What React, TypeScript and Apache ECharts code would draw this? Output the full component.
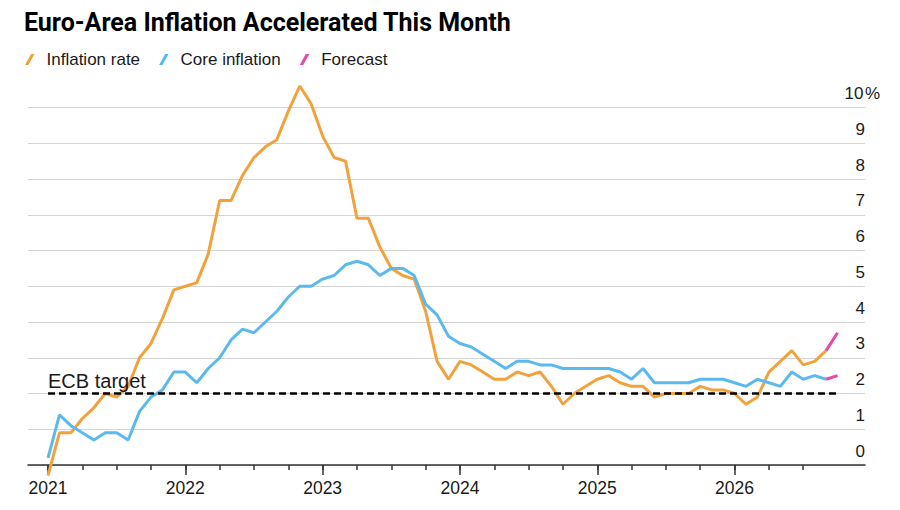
import React, { useEffect, useRef } from 'react';
import * as echarts from 'echarts';

// ---------- data ----------
const titleText = 'Euro-Area Inflation Accelerated This Month';
const seriesNames = ['Inflation rate', 'Core inflation', 'Forecast'];
const firstYear = 2021;
// monthly readings, first value sits on the 2021 tick
const inflationRate = [
  -0.3, 0.9, 0.9, 1.3, 1.6, 2.0, 1.9, 2.2, 3.0, 3.4, 4.1, 4.9,
  5.0, 5.1, 5.9, 7.4, 7.4, 8.1, 8.6, 8.9, 9.1, 9.9, 10.6, 10.1,
  9.2, 8.6, 8.5, 6.9, 6.9, 6.1, 5.5, 5.3, 5.2, 4.3, 2.9, 2.4,
  2.9, 2.8, 2.6, 2.4, 2.4, 2.6, 2.5, 2.6, 2.2, 1.7, 2.0, 2.2,
  2.4, 2.5, 2.3, 2.2, 2.2, 1.9, 2.0, 2.0, 2.0, 2.2, 2.1, 2.1,
  2.0, 1.7, 1.9, 2.6, 2.9, 3.2, 2.8, 2.9, 3.2,
];
const coreInflation = [
  0.2, 1.4, 1.1, 0.9, 0.7, 0.9, 0.9, 0.7, 1.5, 1.9, 2.1, 2.6,
  2.6, 2.3, 2.7, 3.0, 3.5, 3.8, 3.7, 4.0, 4.3, 4.7, 5.0, 5.0,
  5.2, 5.3, 5.6, 5.7, 5.6, 5.3, 5.5, 5.5, 5.3, 4.5, 4.2, 3.6,
  3.4, 3.3, 3.1, 2.9, 2.7, 2.9, 2.9, 2.8, 2.8, 2.7, 2.7, 2.7,
  2.7, 2.7, 2.6, 2.4, 2.7, 2.3, 2.3, 2.3, 2.3, 2.4, 2.4, 2.4,
  2.3, 2.2, 2.4, 2.3, 2.2, 2.6, 2.4, 2.5, 2.4,
];
const inflationForecast = [3.7];
const coreForecast = [2.5];
const yearLabels = [2021, 2022, 2023, 2024, 2025, 2026];
const yTickValues = [0, 1, 2, 3, 4, 5, 6, 7, 8, 9, 10];
const ecbTarget = 2;
const ecbLabel = 'ECB target';

// ---------- style ----------
const FONT = '"Liberation Sans", Arial, Helvetica, sans-serif';
const TITLE_FONT = 'Roboto, "Liberation Sans", Arial, sans-serif';
const ORANGE = '#F2A23C';
const BLUE = '#5BB9EE';
const PINK = '#E34AA6';
const TEXT = '#1a1a1a';

const toPairs = (arr: number[], start = 0) => arr.map((v, i) => [start + i, v]);
const lastIdx = inflationRate.length - 1;
const forecastPairs = (hist: number[], fc: number[]) =>
  [[lastIdx, hist[lastIdx]], ...toPairs(fc, lastIdx + 1)];

const yearTickPos = yearLabels.map((y) => (y - firstYear) * 12);
const quarterTickPos = yearLabels
  .flatMap((y) => [0, 3, 6, 9].map((q) => (y - firstYear) * 12 + q))
  .filter((v) => v <= lastIdx);

const X_MIN = -1.75;
const X_MAX = 71.4;

const legendIcon = 'path://M0,11 L6,0 L9.5,0 L3.5,11 Z';

const option: any = {
  animation: false,
  backgroundColor: '#ffffff',
  textStyle: { fontFamily: FONT },
  title: {
    text: titleText,
    left: 24,
    top: 10,
    padding: 0,
    textStyle: { fontFamily: TITLE_FONT, fontSize: 25, fontWeight: 'bold', color: '#000' },
  },
  legend: {
    data: seriesNames,
    left: 25,
    top: 51,
    padding: 0,
    icon: legendIcon,
    itemWidth: 9.5,
    itemHeight: 11,
    itemGap: 19,
    textStyle: { fontFamily: FONT, fontSize: 17, color: TEXT, padding: [0, 0, 0, 7] },
  },
  grid: { left: 28, right: 35, top: 107.5, bottom: 45, containLabel: false },
  xAxis: [
    {
      type: 'value',
      min: X_MIN,
      max: X_MAX,
      position: 'bottom',
      splitLine: { show: false },
      axisLine: { show: true, onZero: false, lineStyle: { color: '#333', width: 1.5 } },
      axisTick: {
        show: true,
        customValues: yearTickPos,
        length: 10,
        lineStyle: { color: '#333', width: 1.5 },
      },
      axisLabel: {
        customValues: yearTickPos,
        formatter: (v: number) => String(firstYear + Math.round(v / 12)),
        fontFamily: FONT,
        fontSize: 17.5,
        color: TEXT,
        margin: 14,
      },
    },
    {
      type: 'value',
      min: X_MIN,
      max: X_MAX,
      position: 'bottom',
      splitLine: { show: false },
      axisLine: { show: false },
      axisTick: {
        show: true,
        customValues: quarterTickPos,
        length: 5,
        lineStyle: { color: '#333', width: 1.5 },
      },
      axisLabel: { show: false },
    },
  ],
  yAxis: {
    type: 'value',
    position: 'right',
    min: yTickValues[0],
    max: yTickValues[yTickValues.length - 1],
    interval: 1,
    axisLine: { show: false },
    axisTick: { show: false },
    splitLine: { show: true, lineStyle: { color: '#d4d4d4', width: 1 } },
    axisLabel: {
      margin: -22,
      align: 'left',
      verticalAlign: 'bottom',
      padding: [0, 0, 5, 0],
      lineHeight: 18,
      fontFamily: FONT,
      fontSize: 17,
      color: TEXT,
      formatter: (v: number) =>
        v === yTickValues[yTickValues.length - 1] ? `{n|${v}}{p|%}` : `{n|${v}}`,
      rich: {
        n: { width: 22, align: 'right', fontSize: 17, lineHeight: 18, color: TEXT, fontFamily: FONT },
        p: { fontSize: 17, lineHeight: 18, color: TEXT, fontFamily: FONT },
      },
    },
  },
  series: [
    {
      name: seriesNames[0],
      type: 'line',
      data: toPairs(inflationRate),
      showSymbol: false,
      clip: false,
      color: ORANGE,
      lineStyle: { color: ORANGE, width: 3 },
      z: 2,
    },
    {
      name: seriesNames[1],
      type: 'line',
      data: toPairs(coreInflation),
      showSymbol: false,
      clip: false,
      color: BLUE,
      lineStyle: { color: BLUE, width: 3 },
      z: 3,
    },
    {
      name: seriesNames[2],
      type: 'line',
      data: forecastPairs(inflationRate, inflationForecast),
      showSymbol: false,
      clip: false,
      color: PINK,
      lineStyle: { color: PINK, width: 3 },
      z: 4,
    },
    {
      name: seriesNames[2],
      type: 'line',
      data: forecastPairs(coreInflation, coreForecast),
      showSymbol: false,
      clip: false,
      color: PINK,
      lineStyle: { color: PINK, width: 3 },
      z: 4,
    },
    {
      name: ecbLabel,
      type: 'line',
      data: [],
      z: 6,
      markLine: {
        silent: true,
        symbol: 'none',
        z: 6,
        lineStyle: { color: '#000', type: [7, 4], width: 2.5 },
        label: {
          show: true,
          position: 'insideStartTop',
          formatter: ecbLabel,
          fontFamily: FONT,
          fontSize: 20,
          color: TEXT,
          distance: [0, 3],
        },
        data: [[{ coord: [0, ecbTarget] }, { coord: [lastIdx + inflationForecast.length, ecbTarget] }]],
      },
    },
  ],
};

export default function App() {
  const ref = useRef<HTMLDivElement>(null);
  useEffect(() => {
    document.body.style.margin = '0';
    const chart = echarts.init(ref.current as HTMLDivElement, null, { renderer: 'svg' });
    chart.setOption(option);
    return () => chart.dispose();
  }, []);
  return <div ref={ref} style={{ width: 900, height: 510, background: '#fff' }} />;
}
